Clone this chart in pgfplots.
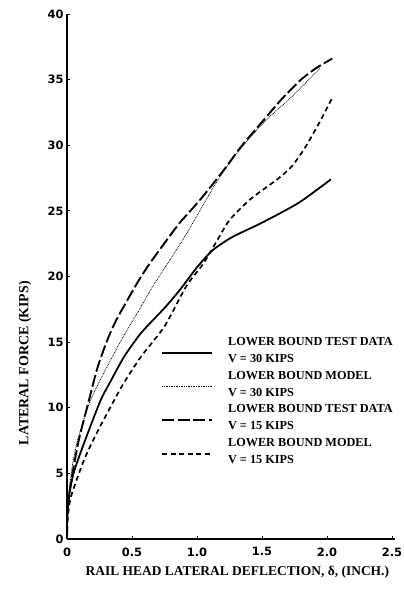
\documentclass[border=0pt]{standalone}
\usepackage{fontspec}
\setmainfont{Liberation Serif}
\newfontfamily\tickfont{DejaVu Sans}
\usepackage{pgfplots}
\pgfplotsset{compat=1.18}
\begin{document}
\begin{tikzpicture}
\begin{axis}[
  scale only axis, width=327.6bp, height=525bp,
  xmin=0, xmax=2.52, ymin=0, ymax=40,
  axis x line*=bottom, axis y line*=left,
  axis line style={line width=1.8pt},
  xtick={0,0.5,1,1.5,2,2.5}, xticklabels={0,0.5,1.0,1.5,2.0,2.5},
  ytick={0,5,...,40},
  tick style={black, line width=0.9pt}, tick align=inside, major tick length=3bp,
  ticklabel style={font=\tickfont\bfseries\fontsize{11.5}{11.5}\selectfont},
  xticklabel style={yshift=-5bp},
  /pgf/number format/assume math mode=true,
  xlabel={RAIL HEAD LATERAL DEFLECTION, δ, (INCH.)},
  ylabel={LATERAL FORCE (KIPS)},
  label style={font=\bfseries\fontsize{13.5}{14}\selectfont},
  xlabel style={at={(axis description cs:0.52,-0.063)}, anchor=center},
  ylabel style={at={(axis description cs:-0.128,0.335)}, anchor=center, font=\bfseries\fontsize{14}{14}\selectfont},
  legend cell align=left,
  legend style={at={(axis cs:0.70,15.6)}, anchor=north west, draw=none, fill=none,
    font=\bfseries\fontsize{12.3}{17}\selectfont, cells={align=left},
    row sep=5bp, nodes={inner sep=1bp},
    /tikz/every odd column/.append style={column sep=14bp}},
  legend image code/.code={\draw[#1] (0bp,-2.5bp) -- (50bp,-2.5bp);},
]
% Lower bound test data V=30 (solid)
\addplot[black, line width=1.8pt, smooth, tension=0.4] coordinates {
(0,0) (0.003,2.4) (0.05,5.0) (0.15,7.8) (0.26,10.6) (0.34,12.1) (0.44,13.9)
(0.57,15.7) (0.75,17.6) (0.87,19.0) (1.0,20.7) (1.12,22.0) (1.27,23.0)
(1.50,24.1) (1.78,25.6) (2.03,27.4)};
\addlegendentry{LOWER BOUND TEST DATA\\V = 30 KIPS}
% Lower bound model V=30 (dotted)
\addplot[black, line width=0.8pt, dash pattern=on 0.8pt off 0.9pt, smooth, tension=0.4] coordinates {
(0,0) (0.01,3) (0.04,5.5) (0.08,7.5) (0.17,10.3) (0.26,12.2) (0.42,15.2)
(0.54,17.2) (0.67,19.4) (0.84,22.0) (0.94,23.6) (1.05,25.5) (1.17,27.5)
(1.34,29.8) (1.52,31.8) (1.74,33.8) (1.88,35.2) (1.95,35.9)};
\addlegendentry{LOWER BOUND MODEL\\V = 30 KIPS}
% Lower bound test data V=15 (long dash)
\addplot[black, line width=1.9pt, dash pattern=on 12bp off 3.5bp, smooth, tension=0.4] coordinates {
(0,0) (0.005,2.2) (0.03,4.3) (0.09,7.5) (0.18,11.0) (0.23,12.9) (0.30,14.9)
(0.38,16.7) (0.54,19.5) (0.63,20.9) (0.71,22.0) (0.86,24.0) (1.02,25.8)
(1.19,27.9) (1.34,29.9) (1.52,32.0) (1.65,33.5) (1.80,35.0) (1.92,35.9) (2.04,36.6)};
\addlegendentry{LOWER BOUND TEST DATA\\V = 15 KIPS}
% Lower bound model V=15 (short dash)
\addplot[black, line width=1.7pt, dash pattern=on 5bp off 3.5bp, smooth, tension=0.4] coordinates {
(0,0) (0.005,1.5) (0.03,3.2) (0.13,6.0) (0.23,8.1) (0.42,11.6) (0.57,13.9)
(0.75,16.2) (0.92,19.3) (1.05,21.0) (1.17,23.0) (1.25,24.3) (1.40,25.8)
(1.52,26.7) (1.63,27.5) (1.73,28.4) (1.83,29.8) (1.94,31.7) (2.04,33.6)};
\addlegendentry{LOWER BOUND MODEL\\V = 15 KIPS}
\end{axis}
\pgfresetboundingbox
\path ([shift={(-67bp,-57bp)}]current axis.south west) rectangle ([shift={(9.4bp,14bp)}]current axis.north east);
\end{tikzpicture}
\end{document}
